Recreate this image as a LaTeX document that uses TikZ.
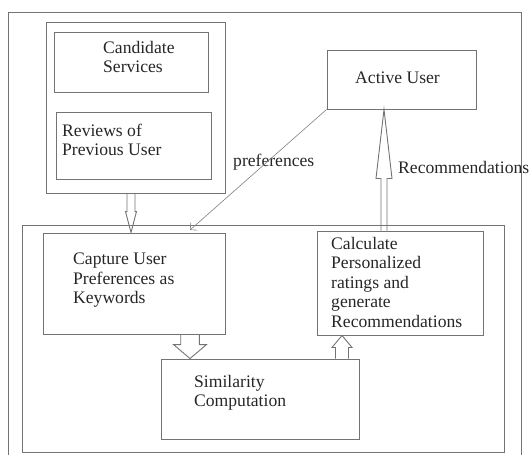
\documentclass[tikz,border=0pt]{standalone}
\usepackage{fontspec}
\setmainfont{Liberation Serif}
\usetikzlibrary{arrows.meta,calc}
\newcommand\harrow[6]{%
  \draw[hollow] let \p1=(#1), \p2=(#2) in
    ({#3pt-#4pt},\y1) -- ({#3pt-#4pt},{\y2+(#6pt)}) -- ({#3pt-#5pt},{\y2+(#6pt)})
    -- (#3pt,\y2) -- ({#3pt+#5pt},{\y2+(#6pt)}) -- ({#3pt+#4pt},{\y2+(#6pt)})
    -- ({#3pt+#4pt},\y1);}
\begin{document}
\begin{tikzpicture}[x=1pt,y=-1pt,
  box/.style={draw=black!55, line width=0.9pt, inner sep=0pt},
  hollow/.style={draw=black!55, line width=0.9pt, line join=miter},
  conn/.style={draw=black!50, line width=0.6pt},
  txt/.style={inner sep=0pt, align=left, text=black!85, font=\fontsize{17.6}{19.5}\selectfont},
]
\useasboundingbox (0,0) rectangle (531,458);
% outer frame (open at the bottom)
\draw[black!55, line width=0.9pt] (8,455) -- (8,12) -- (521.5,12) -- (521.5,455);
% boxes
\node[box, minimum width=179, minimum height=171] (grp) at (135.5,107.5) {};
\node[box, minimum width=154, minimum height=60] (cs) at (131,62) {};
\node[box, minimum width=155, minimum height=67] (rv) at (133.5,145.5) {};
\node[box, minimum width=149, minimum height=59] (act) at (401.5,79.5) {};
\node[box, minimum width=482, minimum height=227] (inner) at (263,338.5) {};
\node[box, minimum width=182, minimum height=101] (cap) at (134,283.5) {};
\node[box, minimum width=198, minimum height=80] (sim) at (260,399) {};
\node[box, minimum width=166, minimum height=104] (calc) at (400,283) {};
% texts
\node[txt, anchor=west] (tcs) at (103,57) {Candidate\\Services};
\node[txt, anchor=west] (trv) at (62,140) {Reviews of\\Previous User};
\node[txt] (tact) at (397.5,78) {Active User};
\node[txt, anchor=west] (tcap) at (73,280.5) {Capture User\\Preferences as\\Keywords};
\node[txt, anchor=west] (tsim) at (194,393) {Similarity\\Computation};
\node[txt, anchor=west] (tcalc) at (331,282) {Calculate\\Personalized\\ratings and\\generate\\Recommendations};
\node[txt, anchor=west] (tpref) at (233,162) {preferences};
\node[txt, anchor=west] (treco) at (398,167) {Recommendations};
% hollow arrows
\harrow{grp.south}{cap.north}{131}{4}{5.5}{21}
\harrow{cap.south}{sim.north}{190}{9.3}{16.5}{14}
\harrow{sim.north}{calc.south}{342}{6.5}{10}{-12}
\harrow{calc.north}{act.south}{384}{3}{8}{-69}
% preferences connector
\coordinate (pe) at (190,230);
\draw[conn, -{Straight Barb[angle=90:7pt]}] (act.south west) -- (pe);
\end{tikzpicture}
\end{document}
